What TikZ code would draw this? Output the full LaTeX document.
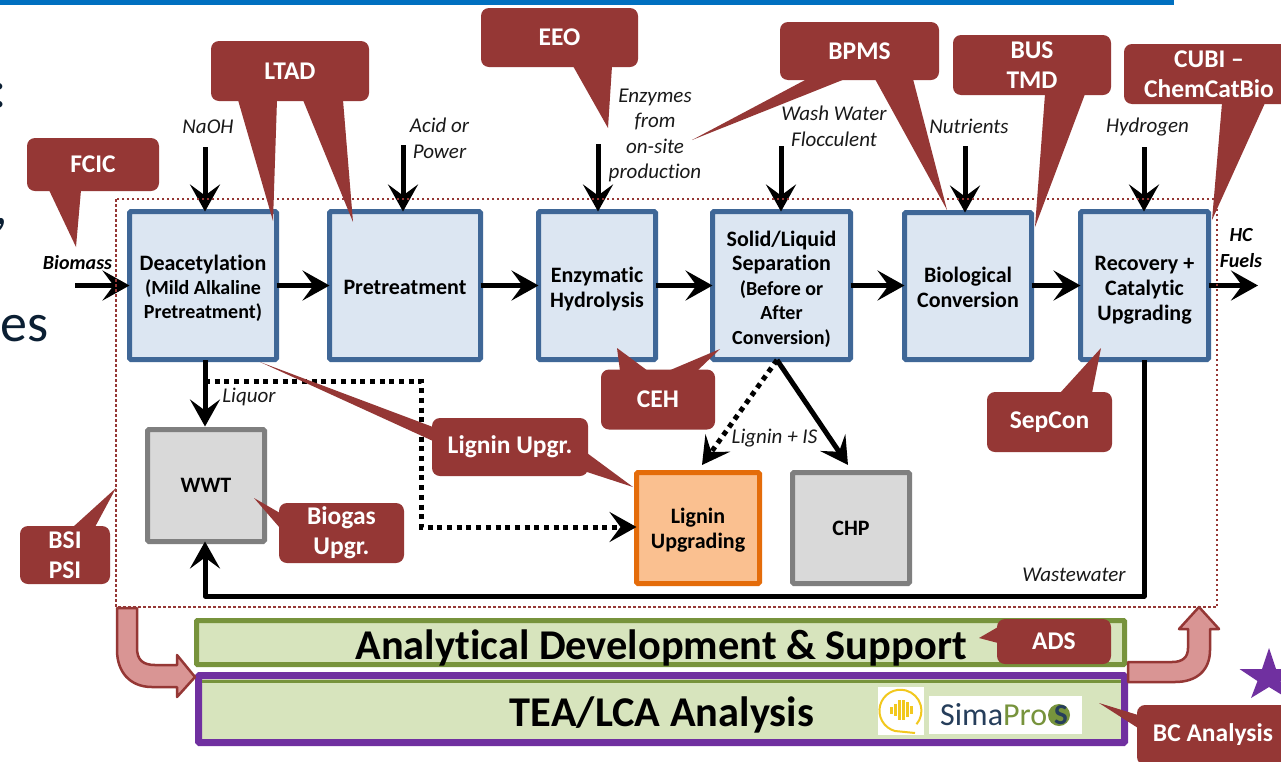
\documentclass[tikz,border=0pt]{standalone}
\usepackage{fontspec}
\setmainfont{Carlito}[Ligatures={TeX,NoCommon}]
\usetikzlibrary{arrows.meta,calc}
\definecolor{callred}{HTML}{953735}
\definecolor{arrowpink}{HTML}{D99594}
\definecolor{blueF}{HTML}{DCE6F2}
\definecolor{blueD}{HTML}{3F6797}
\definecolor{greyF}{HTML}{D9D9D9}
\definecolor{greyD}{HTML}{7F7F7F}
\definecolor{orangeF}{HTML}{FAC090}
\definecolor{orangeD}{HTML}{E46C0A}
\definecolor{greenF}{HTML}{D7E4BD}
\definecolor{greenD}{HTML}{77933C}
\definecolor{purp}{HTML}{7030A0}
\definecolor{topblue}{HTML}{0070C0}
\definecolor{slidetext}{HTML}{0B1F33}
\definecolor{logoyellow}{HTML}{F2C81E}
\newcommand{\subline}[1]{{\fontsize{20}{24}\selectfont #1}}
\newcommand{\dn}[1]{\rule{0pt}{#1pt}}
\tikzset{
  x=1pt,y=-1pt,
  boxbase/.style={rectangle,rounded corners=1.5pt,line width=5pt,align=center,inner sep=0pt,outer sep=0pt,
     font=\fontsize{22}{25}\selectfont\bfseries,text=black},
  procbox/.style={boxbase,draw=blueD,fill=blueF},
  greybox/.style={boxbase,draw=greyD,fill=greyF},
  orangebox/.style={boxbase,draw=orangeD,fill=orangeF},
  callout/.style={rectangle,rounded corners=8pt,fill=callred,text=white,align=center,inner sep=0pt,outer sep=0pt,
     font=\fontsize{25.5}{30}\selectfont\bfseries},
  pointer/.style={fill=callred},
  lab/.style={font=\fontsize{21}{25.5}\selectfont\itshape,align=center,inner sep=0pt,text=black!90},
  blab/.style={font=\fontsize{20}{26}\selectfont\bfseries\itshape,align=center,inner sep=0pt,text=black},
  flow/.style={line width=5pt,-{Stealth[length=27pt,width=30pt,inset=11pt]}},
  dotflow/.style={line width=5pt,dash pattern=on 5pt off 4.7pt,-{Stealth[length=27pt,width=30pt,inset=11pt]}},
  bigbar/.style={rectangle,rounded corners=1pt,inner sep=0pt,outer sep=0pt,fill=greenF},
  bartext/.style={font=\fontsize{42.4}{44}\selectfont\bfseries,inner sep=0pt},
  bentarrow/.style={fill=arrowpink,draw=callred,line width=2.5pt,line join=round},
  slide/.style={font=\fontsize{54}{60}\selectfont,text=slidetext,inner sep=0pt,anchor=base west},
}
\begin{document}
\begin{tikzpicture}
\useasboundingbox (0,0) rectangle (1281,761);
\fill[white] (0,0) rectangle (1281,761);
\fill[topblue] (0,0) rectangle (1174,5);
% cropped slide text
\node[slide] (sa) at (-8,107) {:};
\node[slide] (sb) at (-6,224) {,};
\node[slide] (sc) at (0,341) {es};

% process boxes
\node[procbox,minimum width=147pt,minimum height=148pt,font=\fontsize{22}{24}\selectfont\bfseries] (deac) at (203,285.5) {\dn{22}Deacetylation\\\subline{(Mild Alkaline}\\\subline{Pretreatment)}};
\node[procbox,minimum width=151pt,minimum height=148pt] (pre) at (405,285.5) {\dn{19}Pretreatment};
\node[procbox,minimum width=117pt,minimum height=148pt] (enz) at (597,285.5) {\dn{22}Enzymatic\\Hydrolysis};
\node[procbox,minimum width=138pt,minimum height=148pt,font=\fontsize{22}{24.5}\selectfont\bfseries] (sol) at (781.5,285.5) {\dn{23}Solid/Liquid\\Separation\\\subline{(Before or}\\\subline{After}\\\subline{Conversion)}};
\node[procbox,minimum width=127pt,minimum height=147pt] (bio) at (968,286) {\dn{19}Biological\\Conversion};
\node[procbox,minimum width=128pt,minimum height=148pt] (rec) at (1144.5,285.5) {\dn{24}Recovery +\\Catalytic\\Upgrading};
\node[greybox,minimum width=117pt,minimum height=112pt] (wwt) at (206,485.5) {WWT};
\node[orangebox,minimum width=123pt,minimum height=111pt] (lig) at (698,528) {\dn{20}Lignin\\Upgrading};
\node[greybox,minimum width=117pt,minimum height=111pt] (chp) at (851,528) {CHP};

% free ends
\coordinate (bio0) at (75,285.5);
\coordinate (out1) at (1258,285.5);
\coordinate (naoh0) at (205,147);
\coordinate (acid0) at (403,145);
\coordinate (enzy0) at (598,144);
\coordinate (wash0) at (781,146);
\coordinate (nutr0) at (965,146);
\coordinate (hydr0) at (1144,147);
\coordinate (liq0) at (205,360);
\coordinate (dotb) at (205,381);
\coordinate (dotc) at (421,381);
\coordinate (dotd) at (421,527);
\coordinate (sl0) at (777,360);
\coordinate (ligtip) at (702,465);
\coordinate (chptip) at (848,465);
\coordinate (ww0) at (1144,360);
\coordinate (ww1) at (1144,596);
\coordinate (ww2) at (205,596);

% main flows
\draw[flow] (bio0) -- (deac.west);
\draw[flow] (deac.east) -- (pre.west);
\draw[flow] (pre.east) -- (enz.west);
\draw[flow] (enz.east) -- (sol.west);
\draw[flow] (sol.east) -- (bio.west |- sol.east);
\draw[flow] (bio.east |- sol.east) -- (rec.west);
\draw[flow] (rec.east) -- (out1);
\draw[flow] (naoh0) -- (naoh0 |- deac.north);
\draw[flow] (acid0) -- (acid0 |- pre.north);
\draw[flow] (enzy0) -- (enzy0 |- enz.north);
\draw[flow] (wash0) -- (wash0 |- sol.north);
\draw[flow] (nutr0) -- (nutr0 |- bio.north);
\draw[flow] (hydr0) -- (hydr0 |- rec.north);
\draw[flow] (liq0) -- ($(liq0 |- wwt.north)+(0,-3)$);
\draw[dotflow] (dotb) -- (dotc) -- (dotd) -- (dotd -| lig.west);
\draw[dotflow] (sl0) -- (ligtip);
\draw[flow] (sl0) -- (chptip);
\draw[flow,line join=round] (ww0) -- (ww1) -- (ww2) -- (ww2 |- wwt.south);

% system boundary
\draw[callred,line width=2.5pt,dash pattern=on 2.5pt off 2.5pt] (116,199) rectangle (1217,607);

% bars
\node[bigbar,draw=greenD,line width=5pt,minimum width=928pt,minimum height=44pt] (ads) at (660.5,642.5) {};
\node[bigbar,draw=purp,line width=7pt,minimum width=926pt,minimum height=67pt] (tea) at (661.5,709) {};
\fill[greenD] ($(tea.north west)+(3.5,4)$) rectangle ($(tea.north east)+(-3.5,7.5)$);
\node[bartext] (adst) at (661,648) {Analytical Development \& Support};
\node[bartext] (teat) at (662,715) {TEA/LCA Analysis};

% software logos
\fill[white] (878,687) rectangle (924,735);
\fill[white] (929,696) rectangle (1082,734);
\draw[logoyellow,line width=2pt] (895,731) arc[start angle=105,end angle=400,radius=21] (895,731) -- (915,733);
\foreach \px/\py/\pl in {891/707/7,895/704/12,899/700/20,903/700/20,907/702/15,911/706/8}
  \draw[logoyellow,line width=3pt] (\px,\py) -- ++(0,\pl);
\node[font=\fontsize{32}{34}\selectfont,inner sep=0pt,anchor=west] (sima) at (940,715) {\textcolor{blueD!60!black}{Sima}\textcolor{greenD}{Pro}};
\fill[greenD] (1059,715) circle[radius=11];
\node[font=\fontsize{29}{29}\selectfont\bfseries,text=blueD!60!black,inner sep=0pt] (simas) at (1061,715) {S};

% bent arrows
\draw[bentarrow] (117,608) -- (137,608) -- (137,648) .. controls (137,660) and (143,665) .. (155,665) -- (177,665) -- (177,655) -- (195,677) -- (177,697) -- (177,687) -- (152,687) .. controls (130,687) and (117,672) .. (117,650) -- cycle;
\draw[bentarrow] (1128,662) -- (1172,662) .. controls (1183,662) and (1188,657) .. (1188,648) -- (1188,629) -- (1179,629) -- (1199,607) -- (1219,629) -- (1210,629) -- (1210,650) .. controls (1210,670) and (1197,682) .. (1175,682) -- (1128,682) -- cycle;

% star
\fill[purp] (1269,648)
  -- (1276,669) -- (1298.5,669) -- (1280.5,681) -- (1287,698) -- (1269,687)
  -- (1251,698) -- (1257.5,681) -- (1239.5,669) -- (1262,669) -- cycle;

% pointers
\fill[pointer] (49,190) -- (81,190) -- (76,247) -- cycle;
\fill[pointer] (238,100) -- (277,100) -- (273,221) -- cycle;
\fill[pointer] (303,100) -- (343,100) -- (353,222) -- cycle;
\fill[pointer] (573,66) -- (612,66) -- (608,128) -- cycle;
\fill[pointer] (807,79) -- (845,79) -- (692,140) -- cycle;
\fill[pointer] (875,79) -- (913,79) -- (947,210) -- cycle;
\fill[pointer] (1045,94) -- (1085,94) -- (1035,227) -- cycle;
\fill[pointer] (1222,103) -- (1265,103) -- (1212,220) -- cycle;
\fill[pointer] (620,371) -- (648,371) -- (617,348) -- cycle;
\fill[pointer] (668,371) -- (697,371) -- (720,349) -- cycle;
\fill[pointer] (433,427) -- (433,441) -- (260,362) -- cycle;
\fill[pointer] (587,453) -- (587,472) -- (633,487) -- cycle;
\fill[pointer] (280,513) -- (280,528) -- (254,498) -- cycle;
\fill[pointer] (73,527) -- (95,527) -- (116,488) -- cycle;
\fill[pointer] (1060,393) -- (1092,393) -- (1101,348) -- cycle;
\fill[pointer] (998,627) -- (998,643) -- (979,638) -- cycle;
\fill[pointer] (1138,715) -- (1138,728) -- (1099,703) -- cycle;

% callouts
\node[callout,minimum width=132pt,minimum height=53pt] (fcic) at (93,164.5) {FCIC};
\node[callout,minimum width=158pt,minimum height=60pt] (ltad) at (290,71) {LTAD};
\node[callout,minimum width=157pt,minimum height=59pt] (eeo) at (559.5,37.5) {EEO};
\node[callout,minimum width=159pt,minimum height=58pt] (bpms) at (859.5,51) {BPMS};
\node[callout,minimum width=158pt,minimum height=60pt] (bus) at (1032,65) {BUS\\TMD};
\node[callout,minimum width=170pt,minimum height=60pt] (cubi) at (1209,74) {CUBI --\\ChemCatBio};
\node[callout,minimum width=114pt,minimum height=60pt] (ceh) at (658,399.5) {CEH};
\node[callout,minimum width=156pt,minimum height=58pt] (lu) at (510,447) {Lignin Upgr.};
\node[callout,minimum width=125pt,minimum height=60pt] (bg) at (341.5,533) {Biogas\\Upgr.};
\node[callout,minimum width=90pt,minimum height=58pt] (bsi) at (65,555) {BSI\\PSI};
\node[callout,minimum width=125pt,minimum height=60pt] (sep) at (1049.5,422) {SepCon};
\node[callout,minimum width=114pt,minimum height=45pt] (adsc) at (1054,641.5) {ADS};
\node[callout,minimum width=152pt,minimum height=60pt] (bc) at (1213,735) {BC Analysis};

% flow labels
\node[lab] (lnaoh) at (208,127) {NaOH};
\node[lab] (lacid) at (439.5,138.5) {Acid or\\Power};
\node[lab] (lenz) at (655,135.5) {Enzymes\\from\\on-site\\production};
\node[lab] (lwash) at (834,126.5) {Wash Water\\Flocculent};
\node[lab] (lnut) at (969,126) {Nutrients};
\node[lab] (lhyd) at (1147.5,127) {Hydrogen};
\node[lab] (lliq) at (249,397) {Liquor};
\node[lab] (lis) at (774.5,438) {Lignin + IS};
\node[lab] (lwas) at (1074,575) {Wastewater};
\node[blab] (lbio) at (77.5,263) {Biomass};
\node[blab] (lhc) at (1241,248.5) {HC\\Fuels};
\end{tikzpicture}
\end{document}
